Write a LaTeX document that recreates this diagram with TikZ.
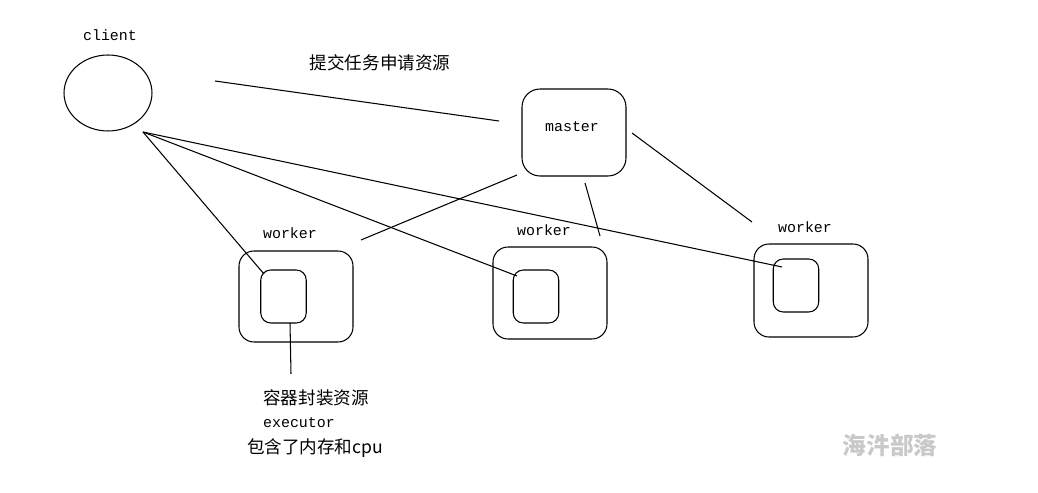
\documentclass[tikz,border=0pt]{standalone}
\usepackage{fontspec}
\setmonofont{Liberation Mono}
\newfontfamily\cjk{Noto Sans CJK SC}
\usetikzlibrary{positioning, shapes.geometric}

\tikzset{
  box/.style={draw, rounded corners=0.3cm, minimum width=2.28cm, minimum height=1.84cm, inner sep=0pt},
  core/.style={draw, rounded corners=0.2cm, minimum width=0.91cm, minimum height=1.06cm, inner sep=0pt},
  tag/.style={font=\ttfamily\fontsize{8.5}{10}\selectfont, inner sep=0pt},
  note/.style={font=\cjk\fontsize{10}{12}\selectfont, inner sep=0pt},
}

\begin{document}
\begin{tikzpicture}[x=0.02cm, y=-0.02cm, line width=0.6pt]
      \useasboundingbox (0,0) rectangle (1038,493);
      % client and master
      \node (client) [draw, ellipse, minimum width=1.76cm, minimum height=1.52cm] at (108,93) {};
      \node (clientlabel) [tag] at (110,35) {client};
      \node (master) [box, rounded corners=0.36cm, minimum width=2.08cm, minimum height=1.74cm] at (574,132.5) {};
      \node (masterlabel) [tag] at (572,127) {master};
      \node (submit) [note] at (380,63) {提交任务申请资源};

      % workers with their containers
      \node (w1) [box, minimum height=1.82cm] at (296,296.5) {};
      \node (c1) [core] at (283.5,296.5) {};
      \node (w2) [box] at (550,293) {};
      \node (c2) [core] at (536,296.5) {};
      \node (w3) [box, minimum height=1.86cm] at (811,290.5) {};
      \node (c3) [core] at (796,285.5) {};
      \node (w1label) [tag] at (290,233) {worker};
      \node (w2label) [tag] at (544,230) {worker};
      \node (w3label) [tag] at (805,227) {worker};

      % free line ends
      \coordinate (cm1) at (215,81);   \coordinate (cm2) at (499,121);
      \coordinate (cl) at (143,132);
      \coordinate (e1) at (264,274);   \coordinate (e2) at (517,276);   \coordinate (e3) at (782,267);
      \coordinate (m1a) at (517,175);  \coordinate (m1b) at (361,240);
      \coordinate (m2a) at (585,183);  \coordinate (m2b) at (600,236);
      \coordinate (m3a) at (632,133);  \coordinate (m3b) at (752,222);
      \coordinate (d1) at (290,323);   \coordinate (d2) at (291,374);

      \draw (cm1) -- (cm2);
      \draw (cl) -- (e1);
      \draw (cl) -- (e2);
      \draw (cl) -- (e3);
      \draw (m1a) -- (m1b);
      \draw (m2a) -- (m2b);
      \draw (m3a) -- (m3b);
      \draw (d1) -- (d2);

      % container notes
      \node (n1) [note] at (316,398) {容器封装资源};
      \node (n2) [tag] at (299,423) {executor};
      \node (n3) [note] at (315,448) {包含了内存和cpu};
      \node (mark) [font=\cjk\bfseries\fontsize{13.5}{15}\selectfont, text=gray!42, inner sep=0pt] at (890,445) {海汼部落};
    \end{tikzpicture}
\end{document}
